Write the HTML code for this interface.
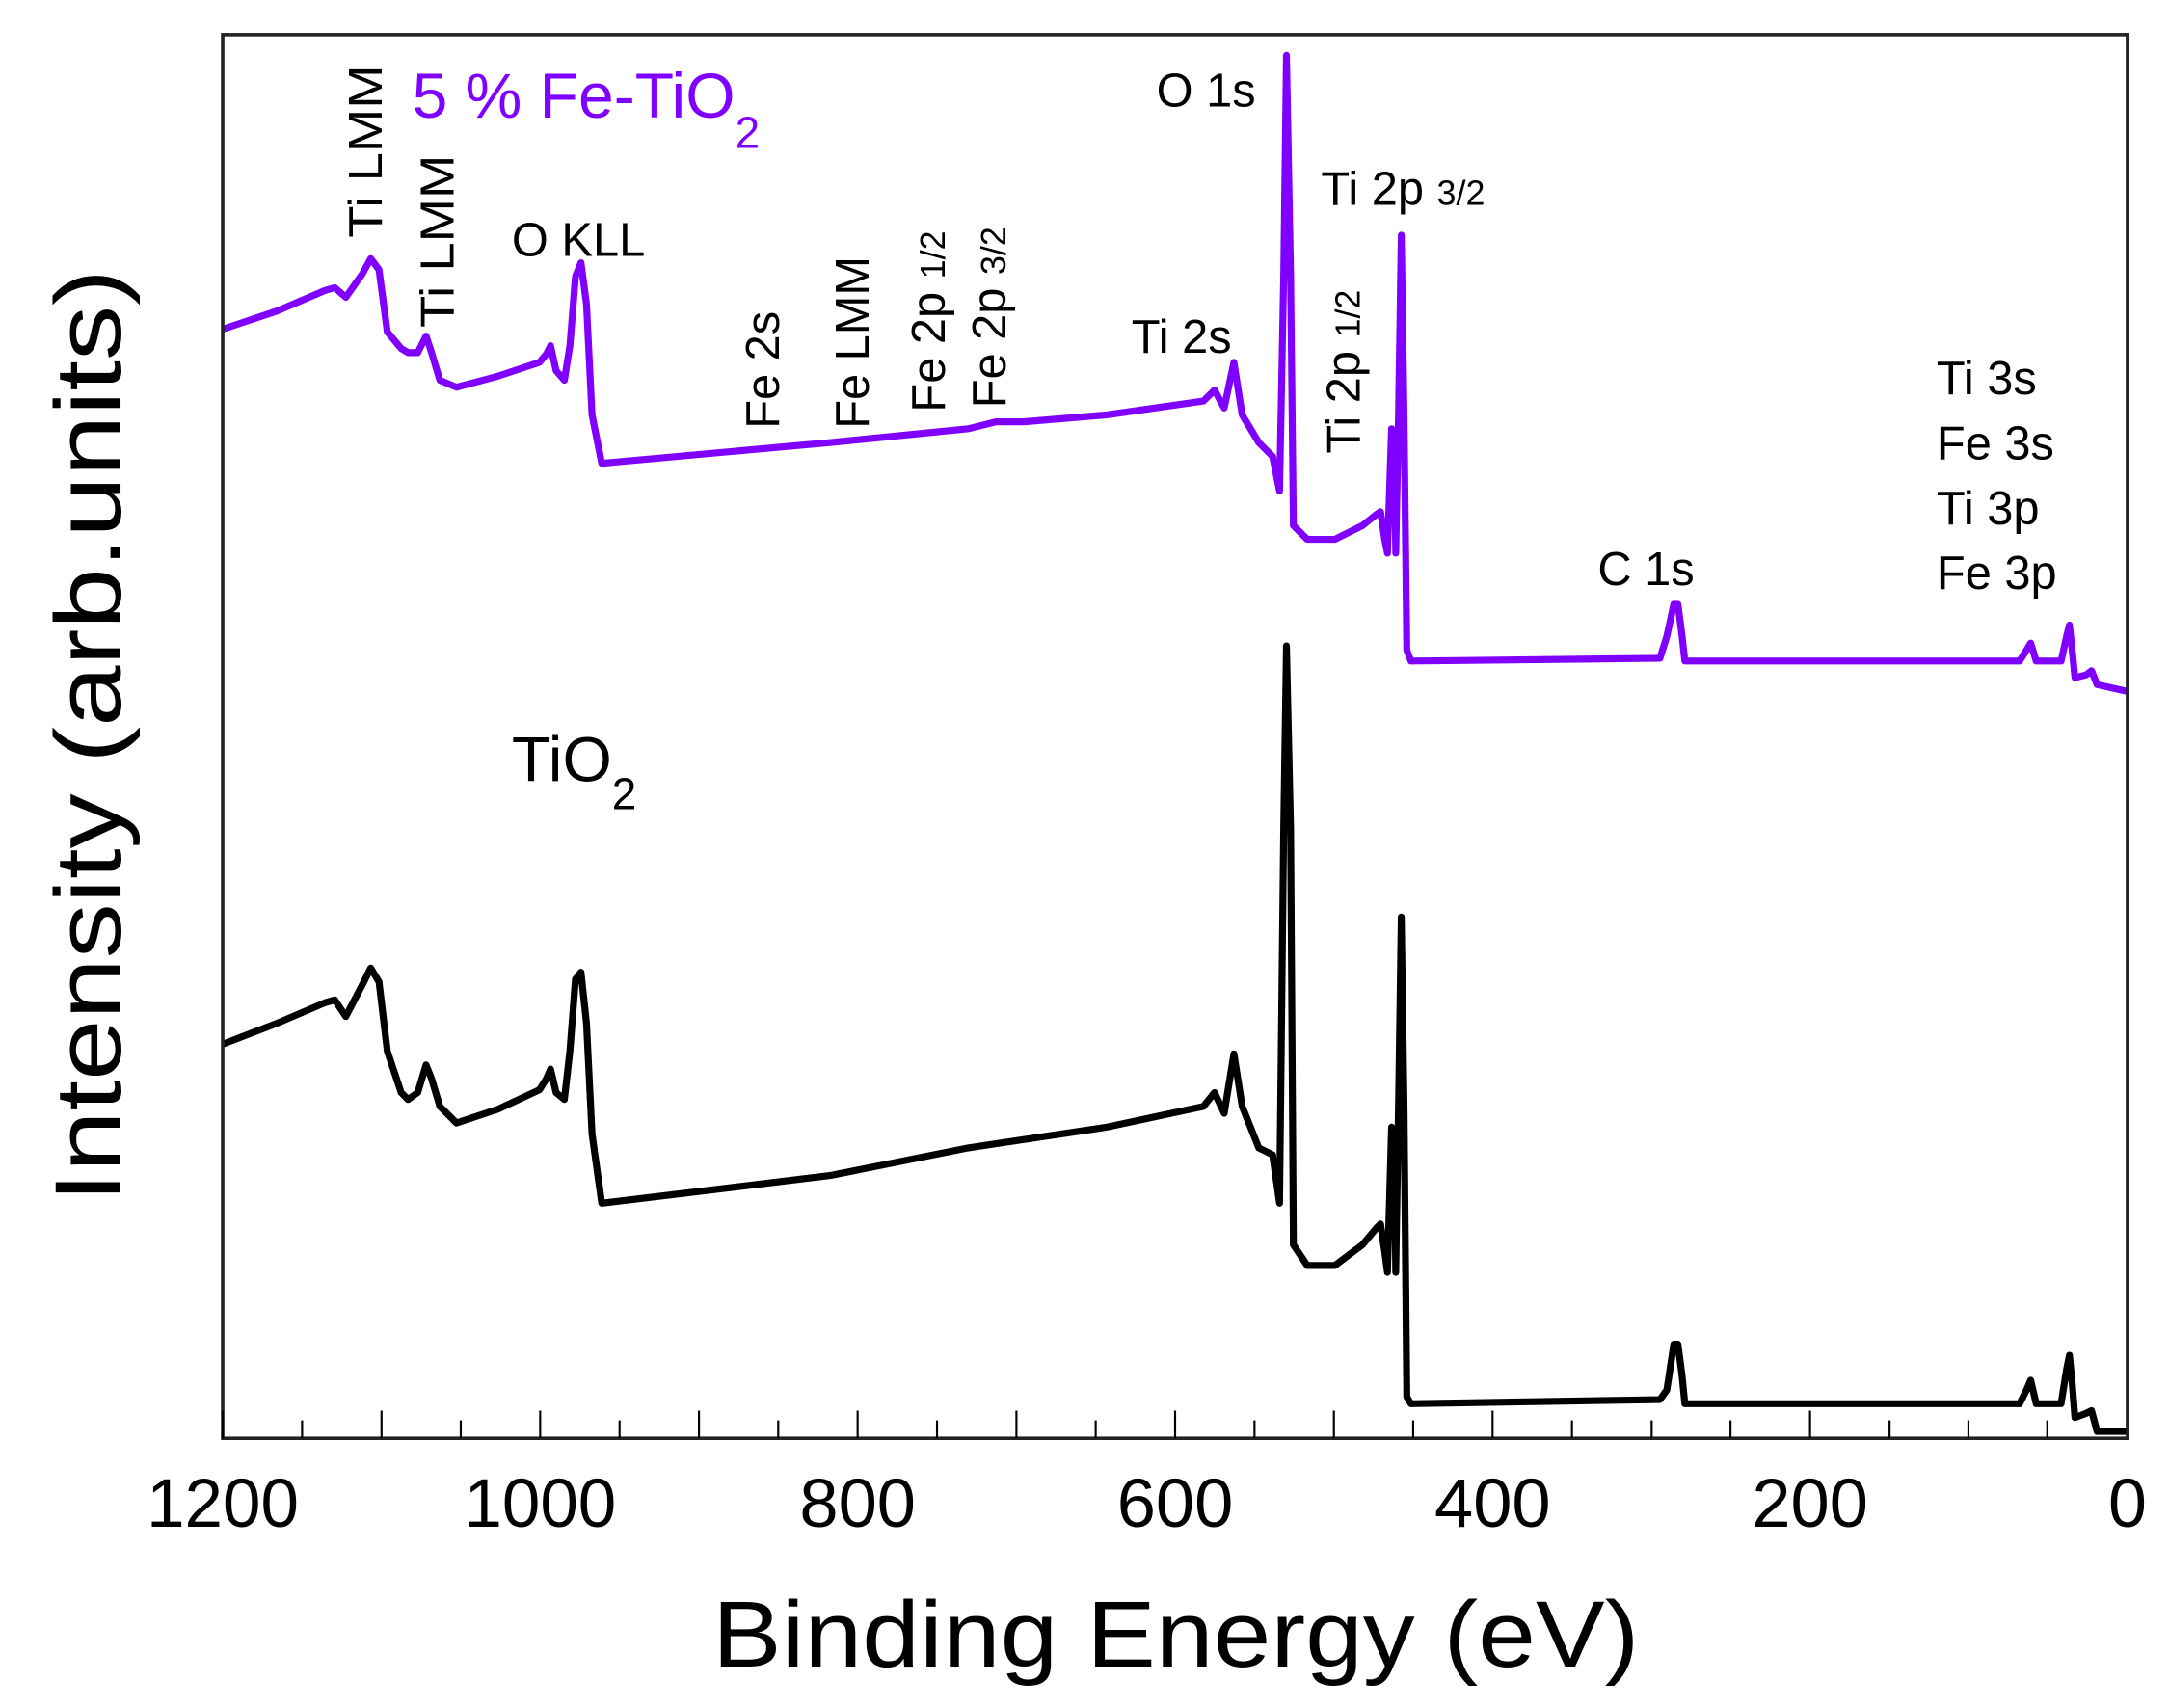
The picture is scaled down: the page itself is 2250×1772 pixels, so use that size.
<!DOCTYPE html>
<html><head><meta charset="utf-8"><style>
html,body{margin:0;padding:0;background:#fff;}
svg{display:block;}
text{font-family:"Liberation Sans",sans-serif;}
</style></head><body>
<svg width="2250" height="1772" viewBox="0 0 1568 1235" preserveAspectRatio="none" xmlns="http://www.w3.org/2000/svg">
<rect x="0" y="0" width="1568" height="1235" fill="#fff"/>
<polyline fill="none" stroke="#7f00ff" stroke-width="5" stroke-linejoin="round" points="161,238 200,225 235,210 242,208 250,215 262,198 268,187 274,195 280,240 290,252 295,255 302,255 308,243 312,255 318,275 330,280 360,272 390,262 395,256 398,250 402,268 408,275 412,250 416,200 420,190 424,220 428,300 435,335 600,320 700,310 720,305 740,305 800,300 870,290 878,282 885,295 892,262 898,300 910,320 920,330 925,355 928,200 930,40 933,200 935,380 945,390 965,390 985,380 995,372 998,370 1001,390 1003,400 1006,310 1008,330 1009,400 1011,300 1013,170 1015,300 1017,470 1020,478 1200,476 1205,460 1210,437 1213,437 1216,460 1218,478 1460,478 1465,470 1468,465 1472,478 1490,478 1494,460 1496,452 1498,470 1500,490 1508,488 1512,485 1516,495 1538,500"/>
<polyline fill="none" stroke="#000" stroke-width="5" stroke-linejoin="round" points="161,755 200,740 235,725 242,723 250,735 262,712 268,700 274,710 280,760 290,790 295,795 302,790 308,770 312,780 318,800 330,812 360,802 390,788 395,780 398,773 402,790 408,795 412,760 416,708 420,703 424,740 428,820 435,870 600,850 700,830 800,815 870,800 878,790 885,805 892,762 898,800 910,830 920,835 925,870 928,600 930,467 933,600 935,900 945,915 965,915 985,900 995,888 998,885 1001,905 1003,920 1006,815 1008,840 1009,920 1011,800 1013,663 1015,800 1017,1010 1020,1015 1200,1012 1205,1005 1210,972 1213,972 1216,995 1218,1015 1460,1015 1465,1005 1468,998 1472,1015 1490,1015 1494,990 1496,980 1498,1000 1500,1025 1508,1022 1512,1020 1516,1035 1538,1035"/>
<rect x="161" y="25" width="1377" height="1015" fill="none" stroke="#222" stroke-width="2.5"/>
<g stroke="#000" stroke-width="1.5">
<line x1="161" y1="1040" x2="161" y2="1020"/>
<line x1="218.4" y1="1040" x2="218.4" y2="1027"/>
<line x1="275.8" y1="1040" x2="275.8" y2="1020"/>
<line x1="333.1" y1="1040" x2="333.1" y2="1027"/>
<line x1="390.5" y1="1040" x2="390.5" y2="1020"/>
<line x1="447.9" y1="1040" x2="447.9" y2="1027"/>
<line x1="505.3" y1="1040" x2="505.3" y2="1020"/>
<line x1="562.6" y1="1040" x2="562.6" y2="1027"/>
<line x1="620" y1="1040" x2="620" y2="1020"/>
<line x1="677.4" y1="1040" x2="677.4" y2="1027"/>
<line x1="734.8" y1="1040" x2="734.8" y2="1020"/>
<line x1="792.1" y1="1040" x2="792.1" y2="1027"/>
<line x1="849.5" y1="1040" x2="849.5" y2="1020"/>
<line x1="906.9" y1="1040" x2="906.9" y2="1027"/>
<line x1="964.3" y1="1040" x2="964.3" y2="1020"/>
<line x1="1021.6" y1="1040" x2="1021.6" y2="1027"/>
<line x1="1079" y1="1040" x2="1079" y2="1020"/>
<line x1="1136.4" y1="1040" x2="1136.4" y2="1027"/>
<line x1="1194" y1="1040" x2="1194" y2="1027"/>
<line x1="1251" y1="1040" x2="1251" y2="1027"/>
<line x1="1308.5" y1="1040" x2="1308.5" y2="1020"/>
<line x1="1366" y1="1040" x2="1366" y2="1027"/>
<line x1="1423" y1="1040" x2="1423" y2="1027"/>
<line x1="1480" y1="1040" x2="1480" y2="1027"/>
</g>
<g font-size="50" text-anchor="middle" fill="#000">
<text x="161" y="1104" textLength="110" lengthAdjust="spacingAndGlyphs">1200</text>
<text x="390.5" y="1104" textLength="110" lengthAdjust="spacingAndGlyphs">1000</text>
<text x="620" y="1104" textLength="84" lengthAdjust="spacingAndGlyphs">800</text>
<text x="849.5" y="1104" textLength="84" lengthAdjust="spacingAndGlyphs">600</text>
<text x="1079" y="1104" textLength="84" lengthAdjust="spacingAndGlyphs">400</text>
<text x="1308.5" y="1104" textLength="84" lengthAdjust="spacingAndGlyphs">200</text>
<text x="1538" y="1104">0</text>
</g>
<text x="850" y="1205" font-size="68" text-anchor="middle" textLength="670" lengthAdjust="spacingAndGlyphs">Binding Energy (eV)</text>
<text transform="translate(87,532) rotate(-90)" font-size="68" text-anchor="middle" textLength="675" lengthAdjust="spacingAndGlyphs">Intensity (arb.units)</text>
<text x="298" y="85" font-size="46" fill="#7f00ff">5 % Fe-TiO<tspan font-size="32" dy="22">2</tspan></text>
<text x="370" y="565" font-size="46" fill="#000">TiO<tspan font-size="32" dy="20">2</tspan></text>
<g font-size="34" fill="#000">
<text x="836" y="77">O 1s</text>
<text x="955" y="148">Ti 2p <tspan font-size="25">3/2</tspan></text>
<text x="370" y="185">O KLL</text>
<text x="818" y="255">Ti 2s</text>
<text x="1155" y="423">C 1s</text>
<text x="1400" y="285">Ti 3s</text>
<text x="1400" y="332">Fe 3s</text>
<text x="1400" y="379">Ti 3p</text>
<text x="1400" y="426">Fe 3p</text>
<text transform="translate(276,172) rotate(-90)" textLength="125" lengthAdjust="spacingAndGlyphs">Ti LMM</text>
<text transform="translate(328,237) rotate(-90)" textLength="125" lengthAdjust="spacingAndGlyphs">Ti LMM</text>
<text transform="translate(563,310) rotate(-90)">Fe 2s</text>
<text transform="translate(628,310) rotate(-90)">Fe LMM</text>
<text transform="translate(683,298) rotate(-90)">Fe 2p <tspan font-size="25">1/2</tspan></text>
<text transform="translate(727,295) rotate(-90)">Fe 2p <tspan font-size="25">3/2</tspan></text>
<text transform="translate(983,328) rotate(-90)">Ti 2p <tspan font-size="25">1/2</tspan></text>
</g>
</svg>
</body></html>
